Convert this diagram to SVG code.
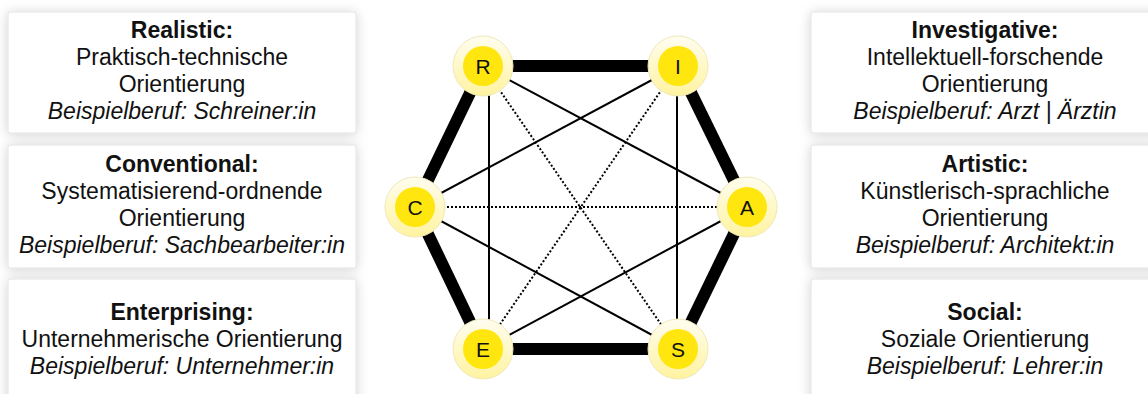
<svg xmlns="http://www.w3.org/2000/svg" width="1148" height="394" viewBox="0 0 1148 394">
<style>
.box{fill:#fff;stroke:#e2e2e2;stroke-width:1;filter:url(#sh)}
.t{font-family:"Liberation Sans",Arial,sans-serif;font-size:23px;fill:#111;text-anchor:middle}
.b{font-weight:bold}
.i{font-style:italic}
.thick{stroke:#000;stroke-width:12;fill:none}
.thin{stroke:#000;stroke-width:2;fill:none}
.dot{stroke:#000;stroke-width:2;stroke-dasharray:2 2;fill:none}
.outer{fill:url(#og);stroke:#efe9b8;stroke-width:1}
.inner{fill:#ffe60f}
.lt{font-family:"Liberation Sans",Arial,sans-serif;font-size:21px;fill:#111;text-anchor:middle}
</style>
<defs>
<filter id="sh" x="-10%" y="-20%" width="120%" height="140%">
<feDropShadow dx="0" dy="1" stdDeviation="6" flood-color="#000" flood-opacity="0.18"/>
</filter>
<linearGradient id="og" x1="0" y1="0" x2="0" y2="1">
<stop offset="0" stop-color="#fffdf0"/>
<stop offset="1" stop-color="#fff3a0"/>
</linearGradient>
</defs>
<rect width="1148" height="394" fill="#fff"/>

<g id="box-realistic">
<rect class="box" x="8" y="12" width="348" height="121" rx="2"/>
<text class="t b" x="182" y="38">Realistic:</text>
<text class="t" x="182" y="65">Praktisch-technische</text>
<text class="t" x="182" y="92">Orientierung</text>
<text class="t i" x="182" y="119">Beispielberuf: Schreiner:in</text>
</g>
<g id="box-conventional">
<rect class="box" x="8" y="145" width="348" height="123" rx="2"/>
<text class="t b" x="182" y="172">Conventional:</text>
<text class="t" x="182" y="199">Systematisierend-ordnende</text>
<text class="t" x="182" y="226">Orientierung</text>
<text class="t i" x="182" y="253">Beispielberuf: Sachbearbeiter:in</text>
</g>
<g id="box-enterprising">
<rect class="box" x="8" y="279" width="348" height="130" rx="2"/>
<text class="t b" x="182" y="320">Enterprising:</text>
<text class="t" x="182" y="347">Unternehmerische Orientierung</text>
<text class="t i" x="182" y="374">Beispielberuf: Unternehmer:in</text>
</g>
<g id="box-investigative">
<rect class="box" x="811" y="12" width="348" height="121" rx="2"/>
<text class="t b" x="985" y="38">Investigative:</text>
<text class="t" x="985" y="65">Intellektuell-forschende</text>
<text class="t" x="985" y="92">Orientierung</text>
<text class="t i" x="985" y="119">Beispielberuf: Arzt | Ärztin</text>
</g>
<g id="box-artistic">
<rect class="box" x="811" y="145" width="348" height="123" rx="2"/>
<text class="t b" x="985" y="172">Artistic:</text>
<text class="t" x="985" y="199">Künstlerisch-sprachliche</text>
<text class="t" x="985" y="226">Orientierung</text>
<text class="t i" x="985" y="253">Beispielberuf: Architekt:in</text>
</g>
<g id="box-social">
<rect class="box" x="811" y="279" width="348" height="130" rx="2"/>
<text class="t b" x="985" y="320">Social:</text>
<text class="t" x="985" y="347">Soziale Orientierung</text>
<text class="t i" x="985" y="374">Beispielberuf: Lehrer:in</text>
</g>

<g id="connectors">
<line class="thick" x1="483" y1="66" x2="678" y2="66"/>
<line class="thick" x1="678" y1="66" x2="747" y2="207"/>
<line class="thick" x1="747" y1="207" x2="678" y2="349"/>
<line class="thick" x1="678" y1="349" x2="483" y2="349"/>
<line class="thick" x1="483" y1="349" x2="415" y2="207"/>
<line class="thick" x1="415" y1="207" x2="483" y2="66"/>
<line class="thin" x1="489" y1="66" x2="489" y2="349"/>
<line class="thin" x1="677" y1="66" x2="677" y2="349"/>
<line class="thin" x1="483" y1="66" x2="747" y2="207"/>
<line class="thin" x1="678" y1="66" x2="415" y2="207"/>
<line class="thin" x1="415" y1="207" x2="678" y2="349"/>
<line class="thin" x1="483" y1="349" x2="747" y2="207"/>
<line class="dot" x1="483" y1="66" x2="678" y2="349"/>
<line class="dot" x1="678" y1="66" x2="483" y2="349"/>
<line class="dot" x1="415" y1="207" x2="747" y2="207"/>
</g>

<g id="node-R"><circle class="outer" cx="483" cy="66" r="30"/><circle class="inner" cx="483" cy="66" r="20"/><text class="lt" x="483" y="73.5">R</text></g>
<g id="node-I"><circle class="outer" cx="678" cy="66" r="30"/><circle class="inner" cx="678" cy="66" r="20"/><text class="lt" x="678" y="73.5">I</text></g>
<g id="node-A"><circle class="outer" cx="747" cy="207" r="30"/><circle class="inner" cx="747" cy="207" r="20"/><text class="lt" x="747" y="214.5">A</text></g>
<g id="node-S"><circle class="outer" cx="678" cy="349" r="30"/><circle class="inner" cx="678" cy="349" r="20"/><text class="lt" x="678" y="356.5">S</text></g>
<g id="node-E"><circle class="outer" cx="483" cy="349" r="30"/><circle class="inner" cx="483" cy="349" r="20"/><text class="lt" x="483" y="356.5">E</text></g>
<g id="node-C"><circle class="outer" cx="415" cy="207" r="30"/><circle class="inner" cx="415" cy="207" r="20"/><text class="lt" x="415" y="214.5">C</text></g>
</svg>
